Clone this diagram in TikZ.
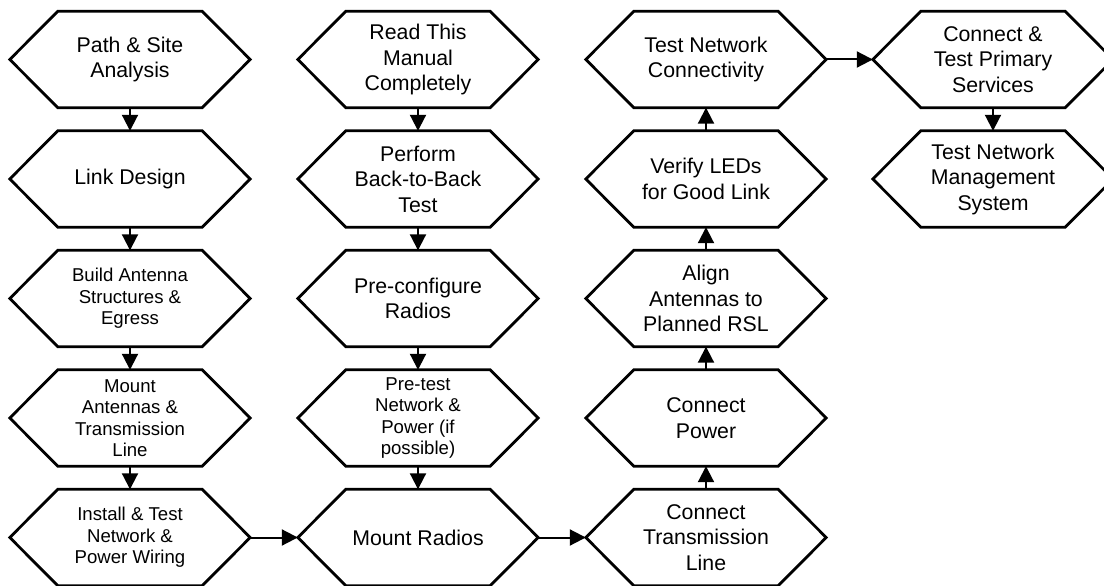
\documentclass[tikz,border=0pt]{standalone}
\usepackage{fontspec}
\setmainfont{Liberation Sans}
\usetikzlibrary{calc,arrows.meta}
\tikzset{
  x=1pt, y=-1pt,
  stepnode/.style={rectangle, minimum width=240pt, minimum height=96pt, inner sep=0pt,
    align=center, font=\fontsize{21.3}{25.5}\selectfont},
  smallnode/.style={stepnode, font=\fontsize{18.6}{21.5}\selectfont},
  hexline/.style={line width=2.8pt, line join=miter},
  flow/.style={line width=2pt, -{Triangle[length=16pt,width=16pt]}},
}
\begin{document}
\begin{tikzpicture}
\useasboundingbox (0,0) rectangle (1104,586);
\clip (0,0) rectangle (1104,586);
\fill[white] (0,0) rectangle (1104,586);
% column 1
\node[stepnode]  (a1) at (130,59.5) {Path \& Site\\Analysis};
\node[stepnode]  (a2) at (130,179) {Link Design};
\node[smallnode] (a3) at (130,298.5) {Build Antenna\\Structures \&\\Egress};
\node[smallnode] (a4) at (130,418) {Mount\\Antennas \&\\Transmission\\Line};
\node[smallnode] (a5) at (130,537.5) {Install \& Test\\Network \&\\Power Wiring};
% column 2
\node[stepnode]  (b1) at (418,59.5) {Read This\\Manual\\Completely};
\node[stepnode]  (b2) at (418,179) {Perform\\Back-to-Back\\Test};
\node[stepnode]  (b3) at (418,298.5) {Pre-configure\\Radios};
\node[smallnode] (b4) at (418,418) {Pre-test\\Network \&\\Power (if\\possible)};
\node[stepnode]  (b5) at (418,537.5) {Mount Radios};
% column 3
\node[stepnode]  (c1) at (706,59.5) {Test Network\\Connectivity};
\node[stepnode]  (c2) at (706,179) {Verify LEDs\\for Good Link};
\node[stepnode]  (c3) at (706,298.5) {Align\\Antennas to\\Planned RSL};
\node[stepnode]  (c4) at (706,418) {Connect\\Power};
\node[stepnode]  (c5) at (706,537.5) {Connect\\Transmission\\Line};
% column 4
\node[stepnode]  (d1) at (993,59.5) {Connect \&\\Test Primary\\Services};
\node[stepnode]  (d2) at (993,179) {Test Network\\Management\\System};
% hexagon outlines
\foreach \n in {a1,a2,a3,a4,a5,b1,b2,b3,b4,b5,c1,c2,c3,c4,c5,d1,d2}{
  \draw[hexline] (\n.west) -- ([xshift=48pt]\n.north west) -- ([xshift=-48pt]\n.north east)
    -- (\n.east) -- ([xshift=-48pt]\n.south east) -- ([xshift=48pt]\n.south west) -- cycle;
}
% connectors
\draw[flow] (a1.south) -- (a2.north);
\draw[flow] (a2.south) -- (a3.north);
\draw[flow] (a3.south) -- (a4.north);
\draw[flow] (a4.south) -- (a5.north);
\draw[flow] (a5.east) -- (b5.west);
\draw[flow] (b1.south) -- (b2.north);
\draw[flow] (b2.south) -- (b3.north);
\draw[flow] (b3.south) -- (b4.north);
\draw[flow] (b4.south) -- (b5.north);
\draw[flow] (b5.east) -- (c5.west);
\draw[flow] (c5.north) -- (c4.south);
\draw[flow] (c4.north) -- (c3.south);
\draw[flow] (c3.north) -- (c2.south);
\draw[flow] (c2.north) -- (c1.south);
\draw[flow] (c1.east) -- (d1.west);
\draw[flow] (d1.south) -- (d2.north);
\end{tikzpicture}
\end{document}
